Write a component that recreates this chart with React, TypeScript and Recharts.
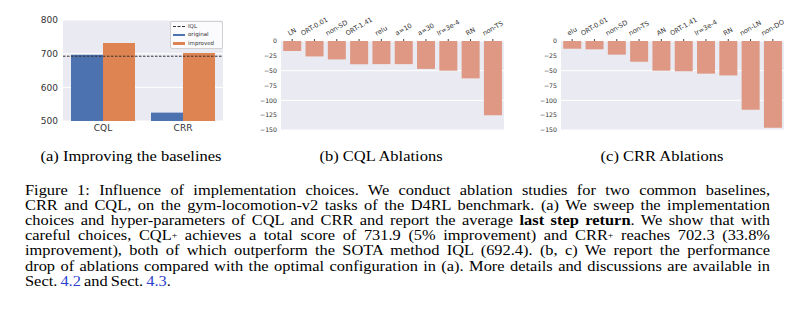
import React from "react";
import { BarChart, Bar, XAxis, YAxis, CartesianGrid, ReferenceLine } from "recharts";

const baselineNames = ["CQL", "CRR"];
const originalReturn = [697.0, 524.9];
const improvedReturn = [731.9, 702.3];
const iqlReturn = 692.4;
const baselineTicks = [500, 600, 700, 800];

const cqlAblations = ["LN", "ORT-0.01", "non-SD", "ORT-1.41", "relu", "a=10", "a=30", "lr=3e-4", "RN", "non-TS"];
const cqlDrops = [-17, -26, -31, -39, -39, -39, -47, -50, -63, -125];
const crrAblations = ["elu", "ORT-0.01", "non-SD", "non-TS", "AN", "ORT-1.41", "lr=3e-4", "RN", "non-LN", "non-DO"];
const crrDrops = [-13, -14, -23, -35, -50, -51, -55, -58, -116, -146];
const dropTicks = [0, -25, -50, -75, -100, -125, -150];

const BG = "#EAEAF2";
const BLUE = "#4C72B0";
const ORANGE = "#DD8452";
const SALMON = "#DE9883";
const TICK = "#333333";
const SANS = "DejaVu Sans";
const SERIF = "Liberation Serif, Times New Roman, serif";

const baselineRows = baselineNames.map((name, i) => ({
  name,
  original: originalReturn[i],
  improved: improvedReturn[i],
}));
const cqlRows = cqlAblations.map((label, i) => ({ label, drop: cqlDrops[i] }));
const crrRows = crrAblations.map((label, i) => ({ label, drop: crrDrops[i] }));

const minus = (v: number) => (v < 0 ? "\u2212" + Math.abs(v) : String(v));

let ctx: CanvasRenderingContext2D | null = null;
function textWidth(s: string, font: string) {
  if (!ctx && typeof document !== "undefined") {
    ctx = document.createElement("canvas").getContext("2d");
  }
  if (!ctx) return s.length * 3.8;
  ctx.font = font;
  return ctx.measureText(s).width;
}

// rotated labels above the plot, like matplotlib rotation=30
function SlantTick(props: any) {
  const { x, y, payload } = props;
  const label = String(payload.value);
  const fs = 6.6;
  const w = textWidth(label, `${fs}px "${SANS}"`);
  const h = w * 0.5 + fs * 0.9;
  const cy = y - h / 2;
  return (
    <text
      x={x}
      y={cy}
      transform={`rotate(-30 ${x} ${cy})`}
      textAnchor="middle"
      dominantBaseline="central"
      fontSize={fs}
      fontFamily={SANS}
      fill={TICK}
    >
      {label}
    </text>
  );
}

function AblationChart({ rows, yWidth }: { rows: { label: string; drop: number }[]; yWidth: number }) {
  return (
    <BarChart
      width={240 + yWidth}
      height={140}
      data={rows}
      margin={{ top: 0, right: 17, left: 0, bottom: 10 }}
      barCategoryGap="10%"
    >
      <CartesianGrid horizontal vertical={false} stroke="#ffffff" fill={BG} />
      <XAxis
        dataKey="label"
        orientation="top"
        height={41}
        interval={0}
        axisLine={false}
        tickSize={2}
        tickMargin={2}
        tickLine={{ stroke: "#444", strokeWidth: 1 }}
        tick={<SlantTick />}
      />
      <YAxis
        width={yWidth}
        domain={[-150, 0]}
        ticks={dropTicks}
        tickFormatter={minus}
        axisLine={false}
        tickLine={false}
        tickSize={0}
        tickMargin={4}
        tick={{ fontSize: 6.2, fontFamily: SANS, fill: TICK }}
      />
      <Bar dataKey="drop" fill={SALMON} isAnimationActive={false} />
    </BarChart>
  );
}

function BaselineChart() {
  return (
    <BarChart
      width={240}
      height={140}
      data={baselineRows}
      margin={{ top: 20, right: 17, left: 0, bottom: 0 }}
      barCategoryGap="10%"
      barGap={0}
    >
      <CartesianGrid horizontal vertical={false} stroke="#ffffff" fill={BG} />
      <XAxis
        dataKey="name"
        height={19}
        axisLine={false}
        tickLine={false}
        tickSize={0}
        tickMargin={4}
        tick={{ fontSize: 9, fontFamily: SANS, fill: TICK }}
      />
      <YAxis
        width={63}
        domain={[500, 800]}
        ticks={baselineTicks}
        allowDataOverflow
        axisLine={false}
        tickLine={false}
        tickSize={0}
        tickMargin={5}
        tick={{ fontSize: 9, fontFamily: SANS, fill: TICK }}
      />
      <Bar dataKey="original" fill={BLUE} isAnimationActive={false} />
      <Bar dataKey="improved" fill={ORANGE} isAnimationActive={false} />
      <ReferenceLine y={iqlReturn} stroke="#333" strokeWidth={1} strokeDasharray="2.5 1.5" />
    </BarChart>
  );
}

function LegendBox() {
  const item = (handle: React.ReactNode, text: string) => (
    <div style={{ display: "flex", alignItems: "center", height: 8.6 }}>
      <div style={{ width: 12, marginRight: 3, display: "flex", alignItems: "center" }}>{handle}</div>
      <span>{text}</span>
    </div>
  );
  return (
    <div
      style={{
        position: "absolute",
        left: 170,
        top: 21,
        width: 49,
        padding: "0 0 0 2px",
        background: "rgba(255,255,255,0.8)",
        border: "1px solid #d0d0d0",
        borderRadius: 2,
        fontFamily: SANS,
        fontSize: 5.5,
        color: "#333",
        lineHeight: 1,
      }}
    >
      {item(<div style={{ width: 12, borderTop: "1px dashed #333" }} />, "IQL")}
      {item(<div style={{ width: 12, height: 2.5, background: BLUE }} />, "original")}
      {item(<div style={{ width: 12, height: 2.5, background: ORANGE }} />, "improved")}
    </div>
  );
}

const squash = "scaleY(0.88)";

function SubCaption({ cx, text }: { cx: number; text: string }) {
  return (
    <div
      style={{
        position: "absolute",
        left: cx - 150,
        top: 147,
        width: 300,
        textAlign: "center",
        fontFamily: SERIF,
        fontSize: 16.5,
        lineHeight: "20px",
        color: "#000",
        transform: squash,
        whiteSpace: "nowrap",
      }}
    >
      {text}
    </div>
  );
}

const plus = (
  <span style={{ fontSize: "0.6em", lineHeight: 0, position: "relative", top: "-0.35em" }}>+</span>
);

const captionLines: React.ReactNode[] = [
  <>Figure 1: Influence of implementation choices. We conduct ablation studies for two common baselines,</>,
  <>CRR and CQL, on the gym-locomotion-v2 tasks of the D4RL benchmark. (a) We sweep the implementation</>,
  <>
    choices and hyper-parameters of CQL and CRR and report the average <b>last step return</b>. We show that with
  </>,
  <>
    careful choices, CQL{plus} achieves a total score of 731.9 (5% improvement) and CRR{plus} reaches 702.3 (33.8%
  </>,
  <>improvement), both of which outperform the SOTA method IQL (692.4). (b, c) We report the performance</>,
  <>drop of ablations compared with the optimal configuration in (a). More details and discussions are available in</>,
  <>
    Sect. <span style={{ color: "#2b3fcf" }}>4.2</span> and Sect. <span style={{ color: "#2b3fcf" }}>4.3</span>.
  </>,
];
const captionCenters = [190, 205.2, 220.4, 235.6, 250.8, 266, 281.2];

export default function App() {
  return (
    <div
      style={{
        position: "absolute",
        left: 0,
        top: 0,
        width: 800,
        height: 325,
        background: "#ffffff",
        overflow: "hidden",
      }}
    >
      <div style={{ position: "absolute", left: 0, top: 0 }}>
        <BaselineChart />
      </div>
      <LegendBox />
      <div style={{ position: "absolute", left: 230, top: 0 }}>
        <AblationChart rows={cqlRows} yWidth={51} />
      </div>
      <div style={{ position: "absolute", left: 509, top: 0 }}>
        <AblationChart rows={crrRows} yWidth={52} />
      </div>
      <SubCaption cx={131} text="(a) Improving the baselines" />
      <SubCaption cx={381} text="(b) CQL Ablations" />
      <SubCaption cx={662} text="(c) CRR Ablations" />
      {captionLines.map((line, i) => {
        const last = i === captionLines.length - 1;
        return (
          <div
            key={i}
            style={{
              position: "absolute",
              left: 25,
              top: captionCenters[i] - 8.5,
              width: 745,
              height: 17,
              fontFamily: SERIF,
              fontSize: 16.4,
              lineHeight: "17px",
              wordSpacing: -1,
              color: "#000",
              whiteSpace: "nowrap",
              textAlign: last ? "left" : "justify",
              textAlignLast: last ? "left" : "justify",
              transform: squash,
            }}
          >
            {line}
          </div>
        );
      })}
    </div>
  );
}
